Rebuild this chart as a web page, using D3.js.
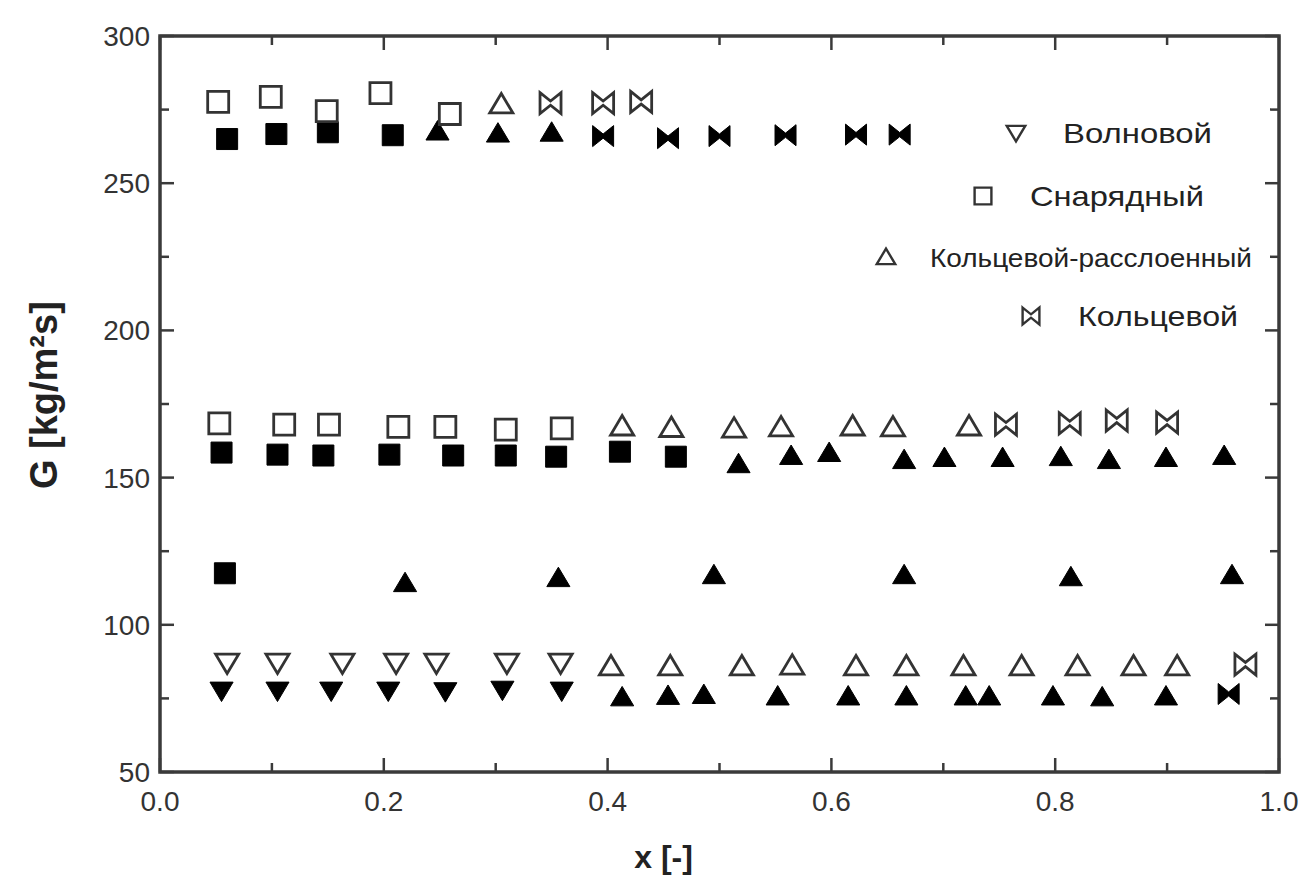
<!DOCTYPE html>
<html>
<head>
    <script src="https://d3js.org/d3.v7.min.js"></script>
    <title>G vs x flow regimes</title>
    <style>
        body { margin: 0; background: #fff; }
    </style>
</head>
<body>
    <svg id="plot" height="881" width="1308"></svg>
    <script>
        // data: [x, G]
        const wavyOpen = [[0.06, 87], [0.105, 87], [0.163, 87], [0.211, 87], [0.247, 87], [0.31, 87], [0.358, 87]];
        const wavyFilled = [[0.055, 77.5], [0.105, 77.5], [0.153, 77.5], [0.204, 77.5], [0.255, 77.3], [0.306, 77.8], [0.359, 77.5]];

        const slugOpen = [[0.052, 277.6], [0.099, 279.3], [0.149, 274.5], [0.197, 280.6], [0.259, 273.5],
                          [0.053, 168.4], [0.111, 168.0], [0.151, 168.0], [0.213, 167.2], [0.255, 167.2], [0.309, 166.3], [0.359, 166.7]];
        const slugFilled = [[0.06, 265], [0.104, 266.7], [0.15, 267.3], [0.208, 266.3],
                            [0.055, 158.5], [0.105, 157.8], [0.146, 157.5], [0.205, 157.8], [0.262, 157.5], [0.309, 157.5], [0.354, 157.1], [0.411, 158.8], [0.461, 157.1],
                            [0.058, 117.5]];

        const stratOpen = [[0.305, 276.9],
                           [0.413, 167.5], [0.457, 167], [0.513, 166.8], [0.555, 167.2], [0.619, 167.5], [0.655, 167.2], [0.723, 167.5],
                           [0.403, 86], [0.456, 86], [0.52, 86], [0.565, 86.3], [0.622, 86], [0.667, 86], [0.718, 86], [0.77, 86], [0.82, 86], [0.87, 86], [0.909, 86]];
        const stratFilled = [[0.248, 267.7], [0.302, 267], [0.35, 267.3],
                             [0.517, 154.7], [0.564, 157.5], [0.598, 158.5], [0.665, 156.1], [0.701, 156.8], [0.753, 156.8], [0.805, 157.1], [0.848, 156.1], [0.899, 156.8], [0.951, 157.5],
                             [0.219, 114.3], [0.356, 116], [0.495, 117], [0.665, 117], [0.814, 116.3], [0.958, 117],
                             [0.413, 75.5], [0.454, 76], [0.486, 76.3], [0.552, 75.8], [0.615, 75.8], [0.667, 75.8], [0.72, 75.8], [0.741, 75.8], [0.798, 75.8], [0.842, 75.5], [0.899, 75.8]];

        const annOpen = [[0.349, 277.2], [0.396, 277.2], [0.43, 277.6],
                         [0.756, 168], [0.813, 168.4], [0.855, 169.4], [0.9, 168.7],
                         [0.97, 86.5]];
        const annFilled = [[0.396, 266], [0.454, 265.3], [0.5, 266], [0.559, 266.3], [0.622, 266.5], [0.661, 266.5],
                           [0.955, 76.5]];

        const xTicks = [0.0, 0.2, 0.4, 0.6, 0.8, 1.0];
        const yTicks = [50, 100, 150, 200, 250, 300];
        const legendNames = ['Волновой', 'Снарядный', 'Кольцевой-расслоенный', 'Кольцевой'];

        const svg = d3.select('svg#plot');
        const margin = {top: 36, right: 29, bottom: 109, left: 160};
        const width = +svg.attr('width');
        const height = +svg.attr('height');
        const chartWidth = width - margin.left - margin.right;
        const chartHeight = height - margin.top - margin.bottom;

        const chartArea = svg.append('g')
            .attr('transform', `translate(${margin.left},${margin.top})`);

        const xScale = d3.scaleLinear().domain([0, 1]).range([0, chartWidth]);
        const yScale = d3.scaleLinear().domain([50, 300]).range([chartHeight, 0]);

        const axisColor = '#3a3a3a';
        const labelColor = '#333';

        // ticks pointing inward, minor ones shorter
        function drawTicks(scale, vals, orient, len) {
            vals.forEach(v => {
                const p = scale(v);
                let l;
                if (orient === 'bottom') l = [p, chartHeight, p, chartHeight - len];
                if (orient === 'top') l = [p, 0, p, len];
                if (orient === 'left') l = [0, p, len, p];
                if (orient === 'right') l = [chartWidth, p, chartWidth - len, p];
                chartArea.append('line')
                    .attr('x1', l[0]).attr('y1', l[1]).attr('x2', l[2]).attr('y2', l[3])
                    .style('stroke', axisColor).style('stroke-width', 2.5);
            });
        }
        const xMinor = d3.range(0.1, 1, 0.2);
        const yMinor = d3.range(75, 300, 50);
        ['bottom', 'top'].forEach(o => { drawTicks(xScale, xTicks, o, 14); drawTicks(xScale, xMinor, o, 9); });
        ['left', 'right'].forEach(o => { drawTicks(yScale, yTicks, o, 14); drawTicks(yScale, yMinor, o, 9); });

        chartArea.append('rect')
            .attr('x', 0).attr('y', 0)
            .attr('width', chartWidth).attr('height', chartHeight)
            .style('fill', 'none')
            .style('stroke', axisColor)
            .style('stroke-width', 3.5);

        // tick labels
        xTicks.forEach(t => {
            chartArea.append('text')
                .attr('x', xScale(t))
                .attr('y', chartHeight + 39)
                .attr('text-anchor', 'middle')
                .style('font-family', 'Liberation Sans, Arial, sans-serif')
                .style('font-size', '28px')
                .style('fill', labelColor)
                .text(t.toFixed(1));
        });
        yTicks.forEach(t => {
            chartArea.append('text')
                .attr('x', -10)
                .attr('y', yScale(t) + 10)
                .attr('text-anchor', 'end')
                .style('font-family', 'Liberation Sans, Arial, sans-serif')
                .style('font-size', '28px')
                .style('fill', labelColor)
                .text(t);
        });

        // axis titles
        svg.append('text')
            .attr('x', margin.left + xScale(0.45))
            .attr('y', 868)
            .attr('text-anchor', 'middle')
            .style('font-family', 'Liberation Sans, Arial, sans-serif')
            .style('font-weight', 'bold')
            .style('font-size', '32px')
            .style('fill', '#222')
            .text('x [-]');

        svg.append('text')
            .attr('transform', `translate(57,${margin.top + yScale(178)}) rotate(-90)`)
            .attr('text-anchor', 'middle')
            .style('font-family', 'Liberation Sans, Arial, sans-serif')
            .style('font-weight', 'bold')
            .style('font-size', '38px')
            .style('fill', '#222')
            .text('G [kg/m²s]');

        // symbol shapes
        const s = 10.5;
        const shapes = {
            square: `M${-s},${-s}H${s}V${s}H${-s}Z`,
            up: `M0,${-s}L${s * 1.1},${s * 0.85}H${-s * 1.1}Z`,
            down: `M0,${s}L${s * 1.1},${-s * 0.85}H${-s * 1.1}Z`,
            bowtie: `M${-s},${-s}L0,${-s * 0.2}L${s},${-s}V${s}L0,${s * 0.2}L${-s},${s}Z`
        };

        function drawSeries(data, shape, filled) {
            data.forEach(d => {
                chartArea.append('path')
                    .attr('d', shapes[shape])
                    .attr('transform', `translate(${xScale(d[0])},${yScale(d[1])})`)
                    .style('fill', filled ? '#000' : 'none')
                    .style('stroke', filled ? '#000' : '#333')
                    .style('stroke-width', filled ? 1 : 2.8)
                    .style('stroke-linejoin', 'miter');
            });
        }

        drawSeries(wavyFilled, 'down', true);
        drawSeries(slugFilled, 'square', true);
        drawSeries(stratFilled, 'up', true);
        drawSeries(annFilled, 'bowtie', true);
        drawSeries(wavyOpen, 'down', false);
        drawSeries(slugOpen, 'square', false);
        drawSeries(stratOpen, 'up', false);
        drawSeries(annOpen, 'bowtie', false);

        // legend
        const legendPos = [
            {sx: 1016, sy: 133, tx: 1063, w: 149, shape: 'down'},
            {sx: 983, sy: 196, tx: 1030, w: 174, shape: 'square'},
            {sx: 886, sy: 257, tx: 930, w: 322, shape: 'up'},
            {sx: 1031, sy: 316, tx: 1078, w: 160, shape: 'bowtie'}
        ];
        legendNames.forEach((name, i) => {
            const p = legendPos[i];
            svg.append('path')
                .attr('d', shapes[p.shape])
                .attr('transform', `translate(${p.sx},${p.sy}) scale(0.8)`)
                .style('fill', 'none')
                .style('stroke', '#333')
                .style('stroke-width', 3);
            svg.append('text')
                .attr('x', p.tx)
                .attr('y', p.sy + 10)
                .attr('textLength', p.w)
                .attr('lengthAdjust', 'spacingAndGlyphs')
                .style('font-family', 'Liberation Sans, Arial, sans-serif')
                .style('font-size', i === 2 ? '25px' : '28px')
                .style('fill', '#222')
                .text(name);
        });
    </script>
</body>
</html>
